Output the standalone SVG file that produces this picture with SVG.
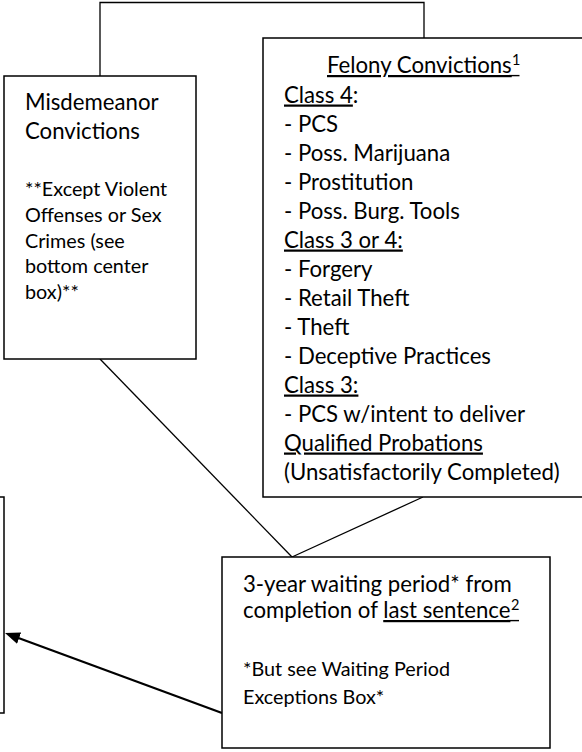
<svg xmlns="http://www.w3.org/2000/svg" width="582" height="752" viewBox="0 0 582 752">
<style>
.box{fill:#fff;stroke:#000;stroke-width:1.5}
.ln{fill:none;stroke:#000;stroke-width:1.3}
.arr{fill:none;stroke:#000;stroke-width:2.3}
.ul{stroke:#000;stroke-width:1.4}
text{font-family:Lato,"Open Sans",sans-serif;fill:#000}
.b{font-size:22.2px}
.s{font-size:19.8px}
.sup{font-size:14.5px}
.u{text-decoration:underline}
</style>
<defs>
<marker id="ah" markerUnits="userSpaceOnUse" markerWidth="15" markerHeight="12" refX="5" refY="6" orient="auto">
<path d="M0,0 L15,6 L0,12 z" fill="#000"/>
</marker>
</defs>
<g id="connectors">
<polyline class="ln" points="100,76 100,2.5 424,2.5 424,38"/>
<line class="ln" x1="100" y1="359" x2="292" y2="557"/>
<line class="ln" x1="423" y1="497" x2="292" y2="557"/>
<line class="arr" x1="222" y1="713" x2="14.4" y2="636.5" marker-end="url(#ah)"/>
</g>
<g id="left-box">
<rect class="box" x="-10" y="497" width="14" height="216"/>
</g>
<g id="misdemeanor">
<rect class="box" x="4" y="76" width="192" height="283"/>
<text class="b" x="25" y="110">Misdemeanor</text>
<text class="b" x="25" y="139">Convictions</text>
<text class="s" x="25" y="196">**Except Violent</text>
<text class="s" x="25" y="222">Offenses or Sex</text>
<text class="s" x="25" y="248">Crimes (see</text>
<text class="s" x="25" y="273">bottom center</text>
<text class="s" x="25" y="299">box)**</text>
</g>
<g id="felony">
<rect class="box" x="263" y="38" width="322" height="459"/>
<text class="b u" x="327" y="73">Felony Convictions</text>
<text class="sup" x="512" y="65">1</text>
<line class="ul" x1="508" y1="75.6" x2="519.5" y2="75.6"/>
<text class="b" x="284" y="102.5"><tspan class="u">Class 4</tspan>:</text>
<text class="b" x="284" y="131.5">- PCS</text>
<text class="b" x="284" y="160.5">- Poss.  Marijuana</text>
<text class="b" x="284" y="189.5">- Prostitution</text>
<text class="b" x="284" y="218.5">- Poss. Burg. Tools</text>
<text class="b u" x="284" y="247.5">Class 3 or 4:</text>
<text class="b" x="284" y="276.5">- Forgery</text>
<text class="b" x="284" y="305.5">- Retail Theft</text>
<text class="b" x="284" y="334.5">- Theft</text>
<text class="b" x="284" y="363.5">- Deceptive Practices</text>
<text class="b u" x="284" y="392.5">Class 3:</text>
<text class="b" x="284" y="421.5">- PCS w/intent to deliver</text>
<text class="b u" x="284" y="450.5">Qualified Probations</text>
<text class="b" x="284" y="479.5">(Unsatisfactorily Completed)</text>
</g>
<g id="waiting-period">
<rect class="box" x="222" y="557" width="328" height="191"/>
<text class="b" x="243" y="592">3-year waiting period* from</text>
<text class="b" x="243" y="618">completion of <tspan class="u">last sentence</tspan></text>
<text class="sup" x="511" y="610">2</text>
<line class="ul" x1="507" y1="620.6" x2="519" y2="620.6"/>
<text class="s" x="243" y="676">*But see Waiting Period</text>
<text class="s" x="243" y="704">Exceptions Box*</text>
</g>
</svg>
